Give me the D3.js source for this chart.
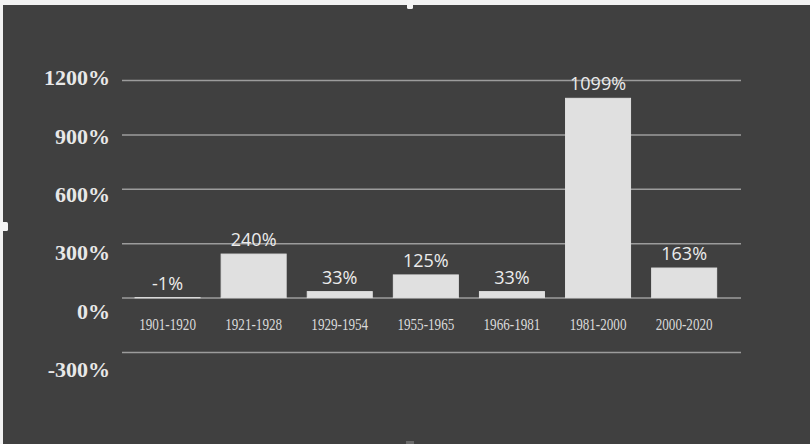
<!DOCTYPE html>
<html>
<head>
<meta charset="utf-8">
<script src="https://cdn.jsdelivr.net/npm/d3@7"></script>
<style>
  html, body { margin: 0; padding: 0; background: #ffffff; }
  svg { display: block; }
</style>
</head>
<body>
<svg id="chart" width="810" height="444"></svg>
<script>
// Real return by period
const periods = ["1901-1920", "1921-1928", "1929-1954", "1955-1965", "1966-1981", "1981-2000", "2000-2020"];
const returns = [-1, 240, 33, 125, 33, 1099, 163];
const yTicks = [-300, 0, 300, 600, 900, 1200];

const svg = d3.select("#chart");
const W = 810, H = 444;

// dark slide panel with a thin light frame on top and left
svg.append("rect").attr("x", 0).attr("y", 0).attr("width", W).attr("height", H).attr("fill", "#f2f2f2");
svg.append("rect").attr("x", 3).attr("y", 5).attr("width", W - 3).attr("height", H - 5).attr("fill", "#404040");

// selection handles on the frame
svg.append("rect").attr("x", 407).attr("y", 0).attr("width", 6).attr("height", 9).attr("rx", 1.5).attr("fill", "#f4f4f4");
svg.append("rect").attr("x", 0).attr("y", 222).attr("width", 8).attr("height", 9).attr("rx", 1.5).attr("fill", "#f4f4f4");
svg.append("rect").attr("x", 406).attr("y", 441).attr("width", 8).attr("height", 3).attr("fill", "#6a6a6a");

const x = d3.scaleBand().domain(periods).range([124.5, 727.2]).paddingInner(0.245).paddingOuter(0.1225);
const y = d3.scaleLinear().domain([-300, 1200]).range([352, 80]);
// tick label placement runs on its own, slightly wider spacing
const yLab = d3.scaleLinear().domain([-300, 1200]).range([369, 77.5]);

// gridlines
const grid = svg.append("g").attr("transform", "translate(122,0)")
  .call(d3.axisLeft(y).tickValues(yTicks).tickSize(-(741 - 122)).tickFormat(""));
grid.select(".domain").remove();
grid.selectAll(".tick line").attr("stroke", "#9c9c9c").attr("stroke-width", 1.5);

// y tick labels
const yAxis = svg.append("g").attr("transform", "translate(110,0)")
  .call(d3.axisLeft(yLab).tickValues(yTicks).tickSize(0).tickPadding(0).tickFormat(d => d + "%"));
yAxis.select(".domain").remove();
yAxis.selectAll(".tick text")
  .attr("fill", "#e8e8e8")
  .attr("font-family", "'Liberation Serif', 'Times New Roman', serif")
  .attr("font-weight", "bold")
  .attr("font-size", "22px")
  .attr("dy", "0.34em");

// bars
svg.append("g").selectAll("rect").data(periods).join("rect")
  .attr("x", d => x(d))
  .attr("width", x.bandwidth())
  .attr("y", (d, i) => y(Math.max(0, returns[i])))
  .attr("height", (d, i) => Math.abs(y(returns[i]) - y(0)))
  .attr("fill", "#e0e0e0")
  .attr("stroke", "#e0e0e0")
  .attr("stroke-width", 1);

// value labels
svg.append("g").selectAll("text").data(periods).join("text")
  .attr("x", d => x(d) + x.bandwidth() / 2)
  .attr("y", (d, i) => y(Math.max(0, returns[i])) - 8)
  .attr("text-anchor", "middle")
  .attr("fill", "#ececec")
  .attr("font-family", "'Open Sans', 'Noto Sans', sans-serif")
  .attr("font-size", "18px")
  .text((d, i) => returns[i] + "%");

// category labels, narrow serif
const xAxis = svg.append("g").attr("transform", "translate(0,324)")
  .call(d3.axisBottom(x).tickSize(0).tickPadding(0));
xAxis.select(".domain").remove();
xAxis.selectAll(".tick text")
  .attr("fill", "#dadada")
  .attr("font-family", "'Liberation Serif', 'Times New Roman', serif")
  .attr("font-size", "16px")
  .attr("dy", "0.35em")
  .attr("transform", "scale(0.82,1)");
</script>
</body>
</html>
